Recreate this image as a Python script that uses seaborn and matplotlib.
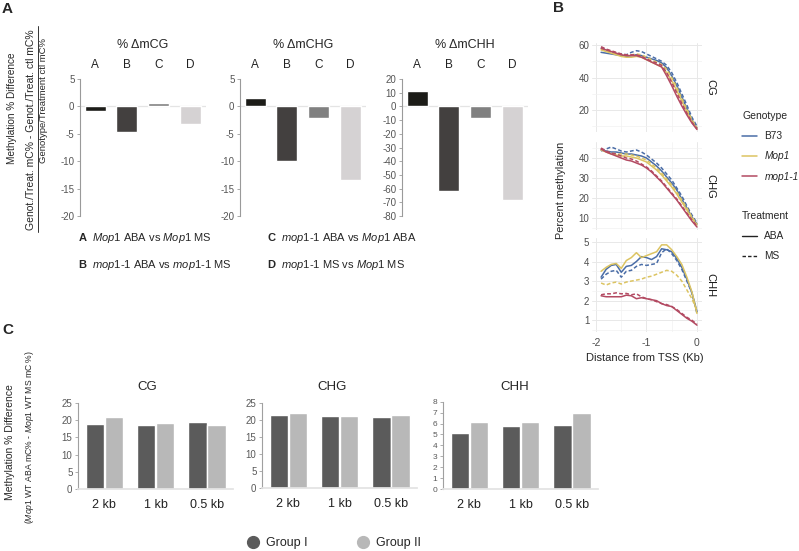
import numpy as np
import pandas as pd
import matplotlib
matplotlib.use('Agg')
import matplotlib.pyplot as plt
import seaborn as sns
from matplotlib.lines import Line2D
from matplotlib.ticker import MultipleLocator

sns.set_theme(style='white')
plt.rcParams['font.family'] = ['Liberation Sans', 'DejaVu Sans']
plt.rcParams['mathtext.fontset'] = 'custom'
plt.rcParams['mathtext.rm'] = 'Liberation Sans'
plt.rcParams['mathtext.it'] = 'Liberation Sans:italic'
plt.rcParams['mathtext.bf'] = 'Liberation Sans:bold'
plt.rcParams['axes.unicode_minus'] = False

W, H = 799, 551

# ==========================================
# DATA
# ==========================================
# panel A: % change of methylation per comparison
comparisons = ['A', 'B', 'C', 'D']
delta_mcg = [-0.8, -4.6, 0.6, -3.2]
delta_mchg = [1.6, -10.0, -2.2, -13.4]
delta_mchh = [11.0, -61.5, -8.5, -68.0]
comparison_colors = ['#1c1c18', '#43403f', '#808080', '#d5d2d3']

# panel B: metaplot upstream of the TSS
distance_kb = [-1.9, -1.8, -1.7, -1.6, -1.5, -1.4, -1.3, -1.2, -1.1, -1.0,
               -0.9, -0.8, -0.7, -0.6, -0.5, -0.4, -0.3, -0.2, -0.1, 0.0]
genotypes = ['B73', 'Mop1', 'mop1-1']
treatments = ['ABA', 'MS']
genotype_colors = ['#4a6da7', '#dcc462', '#b34a62']

cg_b73_aba = [55.5, 55, 54.5, 54, 53.5, 53, 53.5, 54, 53.5, 52.5, 51.5, 50.5, 49, 46, 41, 35, 28, 21, 14, 9]
cg_b73_ms = [58.5, 57, 56, 55, 54.5, 54, 55.5, 56.5, 56, 54.5, 53, 51.5, 50, 47.5, 43, 37, 30, 23, 15.5, 10]
cg_mop1_aba = [57, 56, 55, 54, 53, 52.5, 52.5, 53, 52.5, 51, 49.5, 48, 46.5, 43, 38, 32, 25.5, 19, 13, 8.5]
cg_mop1_ms = [57.5, 56.5, 55.5, 54.5, 54, 53.5, 54, 54.5, 54, 52.5, 51, 49.5, 48, 45, 40, 34, 27, 20.5, 14, 9]
cg_mop11_aba = [58, 57, 56, 55, 54, 53.5, 53.5, 53.5, 52.5, 51, 49.5, 48, 46.5, 41, 35, 28.5, 22.5, 17, 12, 8]
cg_mop11_ms = [59, 57.5, 56.5, 55.5, 54.5, 54, 54, 54, 53, 51.5, 50, 49, 47.5, 43, 37, 30.5, 24, 18, 12.5, 8.5]

chg_b73_aba = [44, 43.5, 43, 43, 42.5, 42, 42, 41.5, 41, 40, 38, 36, 33.5, 30.5, 27.5, 24, 19.5, 15, 10.5, 7]
chg_b73_ms = [43.5, 44.5, 45.5, 44.5, 43.5, 43, 43.5, 44, 43, 41.5, 39.5, 37.5, 35, 32, 29, 25, 21, 16, 11.5, 7.5]
chg_mop1_aba = [44, 43, 42, 41.5, 41, 41, 40.5, 40, 39, 38, 36, 34, 31.5, 28.5, 25.5, 22, 18, 14, 10, 6.5]
chg_mop1_ms = [44.5, 43, 42.5, 42, 42, 42, 41.5, 41, 40, 39, 37, 35, 32.5, 29.5, 26.5, 23, 19, 15, 10.5, 7]
chg_mop11_aba = [44.5, 43, 42, 41, 40, 39, 38.5, 37.5, 36.5, 35, 33, 30.5, 28, 25, 22, 19, 15.5, 12, 8.5, 5.5]
chg_mop11_ms = [45, 43.5, 42.5, 42, 41, 40, 39.5, 38.5, 37, 35.5, 33.5, 31, 28.5, 25.5, 22.5, 19.5, 16, 12.5, 9, 6]

chh_b73_aba = [3.2, 3.6, 3.8, 3.85, 3.45, 3.75, 3.8, 4.0, 4.25, 4.2, 4.1, 4.25, 4.65, 4.6, 4.5, 4.15, 3.7, 3.1, 2.4, 1.45]
chh_b73_ms = [3.1, 3.35, 3.5, 3.55, 3.2, 3.5, 3.55, 3.75, 3.85, 3.8, 3.85, 3.9, 4.45, 4.65, 4.4, 4.05, 3.6, 3.0, 2.4, 1.35]
chh_mop1_aba = [3.5, 3.7, 3.85, 3.9, 3.65, 4.05, 4.2, 4.45, 4.2, 4.3, 4.4, 4.5, 4.85, 4.85, 4.6, 4.25, 3.85, 3.2, 2.45, 1.35]
chh_mop1_ms = [2.9, 2.8, 2.9, 2.95, 2.85, 2.95, 3.0, 3.05, 3.1, 3.2, 3.25, 3.35, 3.45, 3.55, 3.5, 3.3, 3.0, 2.55, 2.1, 1.5]
chh_mop11_aba = [2.25, 2.2, 2.2, 2.2, 2.2, 2.28, 2.25, 2.1, 2.15, 2.1, 2.05, 2.0, 1.85, 1.75, 1.7, 1.5, 1.3, 1.1, 0.95, 0.75]
chh_mop11_ms = [2.3, 2.35, 2.35, 2.4, 2.35, 2.37, 2.3, 2.35, 2.2, 2.1, 2.05, 1.95, 1.85, 1.8, 1.7, 1.55, 1.35, 1.15, 1.0, 0.8]

# panel C: % difference by window
windows = ['2 kb', '1 kb', '0.5 kb']
groups = ['Group I', 'Group II']
group_colors = ['#5b5b5b', '#b8b8b8']
c_cg_group1 = [18.8, 18.5, 19.4]
c_cg_group2 = [20.9, 19.1, 18.6]
c_chg_group1 = [21.3, 21.1, 20.7]
c_chg_group2 = [21.9, 21.1, 21.4]
c_chh_group1 = [5.1, 5.8, 5.85]
c_chh_group2 = [6.1, 6.1, 6.95]

fig = plt.figure(figsize=(W / 100, H / 100), dpi=100)


def add_ax(x0, y0, x1, y1):
    # pixel box (top-left origin) -> figure fraction
    return fig.add_axes([x0 / W, 1 - y1 / H, (x1 - x0) / W, (y1 - y0) / H])


def ftext(x, y, s, **kw):
    return fig.text(x / W, 1 - y / H, s, **kw)


# ==========================================
# PANEL A
# ==========================================
ftext(2, 9, 'A', fontsize=11, fontweight='bold', va='center')
ftext(12, 108, 'Methylation % Difference', rotation=90, ha='center', va='center', fontsize=7.2)
ftext(31.5, 130, 'Genot./Treat. mC% - Genot./Treat. ctl mC%', rotation=90, ha='center', va='center', fontsize=7.5)
fig.add_artist(Line2D([37.5 / W, 37.5 / W], [1 - 26 / H, 1 - 232 / H], color='#333333', lw=0.7))
ftext(44, 100, 'Genotype/Treatment ctl mC%', rotation=90, ha='center', va='center', fontsize=6.8)

panel_a = [
    ('% ΔmCG', delta_mcg, 80, (-20, 5), 5),
    ('% ΔmCHG', delta_mchg, 240, (-20, 5), 5),
    ('% ΔmCHH', delta_mchh, 402, (-80, 20), 10),
]
for title, vals, left, ylim, step in panel_a:
    ax = add_ax(left, 79, left + 3.96 * 31.7, 216)
    sns.barplot(x=comparisons, y=vals, hue=comparisons, palette=comparison_colors,
                width=0.66, saturation=1, legend=False, ax=ax)
    ax.axhline(0, color='#e4e4e4', lw=0.9, zorder=0)
    ax.set_xlim(-0.48, 3.48)
    ax.set_ylim(*ylim)
    ax.set_yticks(np.arange(ylim[0], ylim[1] + 1, step))
    ax.set_facecolor('none')
    for s in ['top', 'right', 'bottom']:
        ax.spines[s].set_visible(False)
    ax.spines['left'].set_color('#9a9a9a')
    ax.spines['left'].set_linewidth(0.8)
    ax.xaxis.tick_top()
    ax.tick_params(axis='x', length=0, pad=6, labelsize=8.5, labelcolor='#222222')
    ax.tick_params(axis='y', left=True, length=2.5, width=0.6, color='#9a9a9a',
                   labelsize=7, labelcolor='#555555', pad=1.5)
    ax.text(1.5, 1.25, title, transform=ax.get_xaxis_transform(), ha='center', va='center', fontsize=9)

ftext(78, 238, r'$\mathbf{A}$  $\mathit{Mop1}$ ABA vs $\mathit{Mop1}$ MS', fontsize=8, va='center')
ftext(78, 265, r'$\mathbf{B}$  $\mathit{mop1}$-$\mathit{1}$ ABA vs $\mathit{mop1}$-$\mathit{1}$ MS', fontsize=8, va='center')
ftext(267, 238, r'$\mathbf{C}$  $\mathit{mop1}$-$\mathit{1}$ ABA vs $\mathit{Mop1}$ ABA', fontsize=8, va='center')
ftext(267, 265, r'$\mathbf{D}$  $\mathit{mop1}$-$\mathit{1}$ MS vs $\mathit{Mop1}$ MS', fontsize=8, va='center')

# ==========================================
# PANEL B
# ==========================================
ftext(553, 8, 'B', fontsize=11, fontweight='bold', va='center')

panel_b = [
    ('CG', [[cg_b73_aba, cg_b73_ms], [cg_mop1_aba, cg_mop1_ms], [cg_mop11_aba, cg_mop11_ms]],
     (42.6, 131.9), (6.5, 61.5), 20),
    ('CHG', [[chg_b73_aba, chg_b73_ms], [chg_mop1_aba, chg_mop1_ms], [chg_mop11_aba, chg_mop11_ms]],
     (142, 230), (4, 48), 10),
    ('CHH', [[chh_b73_aba, chh_b73_ms], [chh_mop1_aba, chh_mop1_ms], [chh_mop11_aba, chh_mop11_ms]],
     (238, 332), (0.4, 5.2), 1),
]
for i, (ctx, series, (top, bottom), ylim, step) in enumerate(panel_b):
    frames = []
    for g, pair in zip(genotypes, series):
        for t, vals in zip(treatments, pair):
            frames.append(pd.DataFrame({'Distance': distance_kb, 'Methylation': vals,
                                        'Genotype': g, 'Treatment': t}))
    df_ctx = pd.concat(frames, ignore_index=True)
    ax = add_ax(592, top, 702, bottom)
    sns.lineplot(data=df_ctx, x='Distance', y='Methylation', hue='Genotype', style='Treatment',
                 hue_order=genotypes, style_order=treatments, palette=genotype_colors,
                 dashes={'ABA': '', 'MS': (2.5, 1.5)}, linewidth=1.1, estimator=None,
                 legend=False, ax=ax)
    ax.set_xlim(-2.08, 0.1)
    ax.set_ylim(*ylim)
    ax.xaxis.set_major_locator(MultipleLocator(1))
    ax.xaxis.set_minor_locator(MultipleLocator(0.5))
    ax.yaxis.set_major_locator(MultipleLocator(step))
    ax.yaxis.set_minor_locator(MultipleLocator(step / 2))
    ax.grid(which='major', color='#e8e8e8', lw=0.7)
    ax.grid(which='minor', color='#f2f2f2', lw=0.5)
    ax.set_axisbelow(True)
    for s in ax.spines.values():
        s.set_visible(False)
    ax.set_xlabel('')
    ax.set_ylabel('')
    ax.tick_params(which='both', length=0, labelsize=7, labelcolor='#4d4d4d', pad=2)
    ax.tick_params(axis='x', pad=4, labelsize=7.5)
    if i < 2:
        ax.tick_params(labelbottom=False)
    ax.text(1.073, 0.5, ctx, transform=ax.transAxes, rotation=270, ha='center', va='center',
            fontsize=8, color='#1a1a1a')

ftext(561, 190, 'Percent methylation', rotation=90, ha='center', va='center', fontsize=7.8)
ftext(645, 358, 'Distance from TSS (Kb)', ha='center', va='center', fontsize=8)

g_handles = [Line2D([], [], color=c, lw=1.1) for c in genotype_colors]
leg1 = fig.legend(g_handles, genotypes, title='Genotype', loc='upper left',
                  bbox_to_anchor=(733 / W, 1 - 102 / H), frameon=False, fontsize=7.3,
                  title_fontsize=7.5, handlelength=1.5, handletextpad=0.7,
                  labelspacing=1.0, alignment='left')
for txt in leg1.get_texts()[1:]:
    txt.set_fontstyle('italic')
t_handles = [Line2D([], [], color='#222222', lw=1.0),
             Line2D([], [], color='#222222', lw=1.0, ls=(0, (2.5, 1.5)))]
fig.legend(t_handles, treatments, title='Treatment', loc='upper left',
           bbox_to_anchor=(733 / W, 1 - 202 / H), frameon=False, fontsize=7.3,
           title_fontsize=7.5, handlelength=1.5, handletextpad=0.7,
           labelspacing=1.0, alignment='left')

# ==========================================
# PANEL C
# ==========================================
ftext(2, 330, 'C', fontsize=11, fontweight='bold', va='center')
ftext(10, 442, 'Methylation % Difference', rotation=90, ha='center', va='center', fontsize=7.5)
ftext(30, 437, r'($\mathit{Mop1}$ WT ABA mC% - $\mathit{Mop1}$ WT MS mC %)', rotation=90,
      ha='center', va='center', fontsize=6.2)

panel_c = [
    ('CG', c_cg_group1, c_cg_group2, 78, (403, 489), (0, 25), 5, 147, 7),
    ('CHG', c_chg_group1, c_chg_group2, 262, (402.7, 488.3), (0, 25), 5, 332, 7),
    ('CHH', c_chh_group1, c_chh_group2, 443, (401.7, 489), (0, 8), 1, 515, 6),
]
for name, g1, g2, left, (top, bottom), ylim, step, tx, ylab_size in panel_c:
    dfc = pd.DataFrame({'Window': windows * 2,
                        'Group': [groups[0]] * 3 + [groups[1]] * 3,
                        'Value': g1 + g2})
    ax = add_ax(left, top, left + 3.02 * 51.4, bottom)
    sns.barplot(data=dfc, x='Window', y='Value', hue='Group', hue_order=groups,
                palette=group_colors, width=0.74, gap=0.05, saturation=1,
                legend=False, ax=ax)
    ax.set_xlim(-0.51, 2.51)
    ax.set_ylim(*ylim)
    ax.set_yticks(np.arange(ylim[0], ylim[1] + 1, step))
    ax.set_xlabel('')
    ax.set_ylabel('')
    ax.set_facecolor('none')
    for s in ['top', 'right']:
        ax.spines[s].set_visible(False)
    ax.spines['bottom'].set_color('#e3e3e3')
    ax.spines['left'].set_color('#a0a0a0')
    ax.spines['left'].set_linewidth(0.8)
    ax.tick_params(axis='x', length=0, pad=7, labelsize=9, labelcolor='#222222')
    ax.tick_params(axis='y', left=True, length=2.5, width=0.6, color='#a0a0a0',
                   labelsize=ylab_size, labelcolor='#595959', pad=1.5)
    ftext(tx, 387, name, ha='center', va='center', fontsize=9.5)

c_handles = [Line2D([], [], marker='o', ls='', color=c, markersize=8.5) for c in group_colors]
fig.legend(c_handles, groups, loc='center', ncol=2, bbox_to_anchor=(334 / W, 1 - 543 / H),
           frameon=False, fontsize=9, handlelength=1.0, handletextpad=0.55,
           columnspacing=3.9, borderpad=0)

fig.savefig('out.png', dpi=100)
